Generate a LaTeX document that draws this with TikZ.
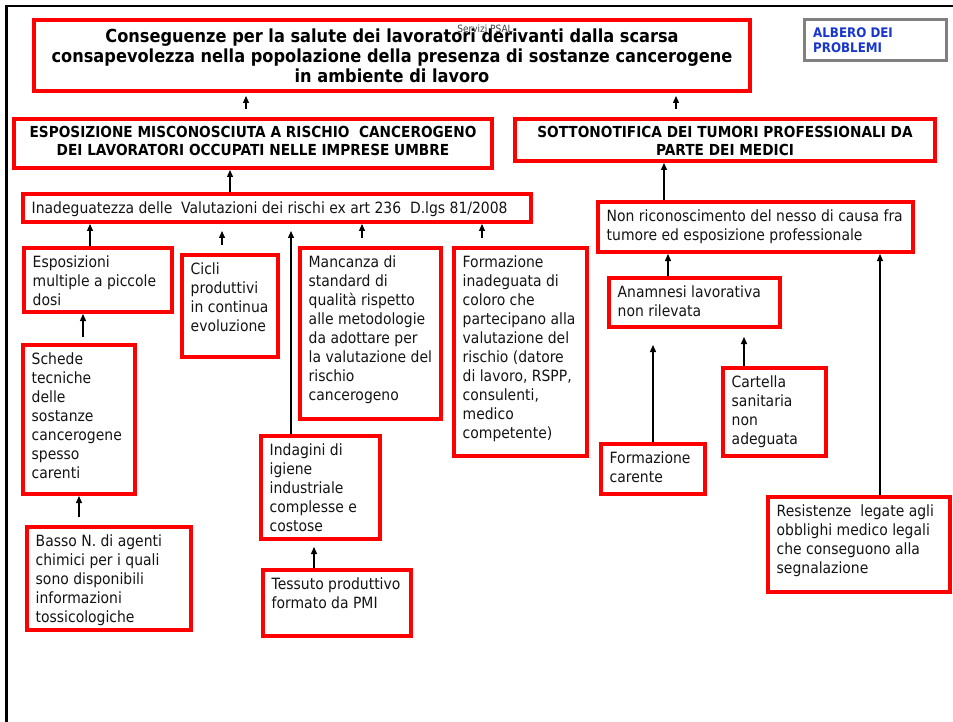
\documentclass[tikz,border=0pt]{standalone}
\usepackage{fontspec}
\setmainfont{DejaVu Sans}[FakeStretch=0.9]
\usetikzlibrary{arrows.meta,fit,calc}
\definecolor{boxred}{RGB}{255,0,0}
\definecolor{lblue}{RGB}{25,55,205}
\definecolor{txtcol}{RGB}{20,20,20}
\tikzset{
  rbox/.style={draw=boxred, line width=4pt, inner sep=0pt, rectangle},
  gbox/.style={draw=black!50, line width=3pt, inner sep=0pt, rectangle},
  txt/.style={align=left, inner sep=0pt, anchor=north west, text=txtcol,
    font=\fontsize{15.5}{19}\selectfont},
  ttl/.style={align=center, inner sep=0pt, text=black,
    font=\fontsize{18}{20}\selectfont\bfseries},
  sub/.style={align=center, inner sep=0pt, text=black,
    font=\fontsize{15.2}{18.5}\selectfont\bfseries},
  arr/.style={line width=1.3pt, draw=black, -{Triangle[length=7pt,width=6pt]}},
}
\newcommand\bx[6]{%
  \node[rbox, fit={(#2+2,#3+2)(#4-2,#5-2)}] (#1) {};
  \node[txt] (#1t) at (#2+10.5,#3+8) {\strut #6};
}
\begin{document}
\begin{tikzpicture}[x=1pt,y=-1pt]
\useasboundingbox[fill=white] (0,0) rectangle (953,722);
% page frame
\draw[line width=2.2pt] (6.5,722) -- (6.5,6) -- (953,6);

% title
\node[rbox, fit={(34,20)(750,91)}] (title) {};
\node[ttl] (titlet) at (392,55.5) {Conseguenze per la salute dei lavoratori derivanti dalla scarsa\\consapevolezza nella popolazione della presenza di sostanze cancerogene\\in ambiente di lavoro};
\node[font=\fontsize{10}{11}\selectfont, text=black!75, inner sep=0pt] (psal) at (485,29) {Servizi PSAL};

% albero dei problemi
\node[gbox, fit={(804.5,19.5)(946.5,60.5)}] (albero) {};
\node[align=left, inner sep=0pt, anchor=north west, text=lblue,
  font=\fontsize{13.2}{12.7}\selectfont\bfseries] (alberot) at (813,27.5) {\strut ALBERO DEI\\PROBLEMI};

% second level
\node[rbox, fit={(14,119)(492,168)}] (esp) {};
\node[sub] (espt) at (253,141) {ESPOSIZIONE MISCONOSCIUTA A RISCHIO\ \ CANCEROGENO\\DEI LAVORATORI OCCUPATI NELLE IMPRESE UMBRE};
\node[rbox, fit={(515,119)(935,161)}] (sott) {};
\node[sub] (sottt) at (725,141) {SOTTONOTIFICA DEI TUMORI PROFESSIONALI DA\\PARTE DEI MEDICI};

% boxes
\bx{inad}{21}{192}{533}{224}{Inadeguatezza delle\ \ Valutazioni dei rischi ex art 236\ \ D.lgs 81/2008}
\bx{espos}{22}{246}{174}{314}{Esposizioni\\multiple a piccole\\dosi}
\bx{cicli}{180}{253}{280}{359}{Cicli\\produttivi\\in continua\\evoluzione}
\bx{manc}{298}{246}{443}{421}{Mancanza di\\standard di\\qualità rispetto\\alle metodologie\\da adottare per\\la valutazione del\\rischio\\cancerogeno}
\bx{form}{452}{246}{589}{458}{Formazione\\inadeguata di\\coloro che\\partecipano alla\\valutazione del\\rischio (datore\\di lavoro, RSPP,\\consulenti,\\medico\\competente)}
\bx{schede}{21}{343}{137}{496}{Schede\\tecniche\\delle\\sostanze\\cancerogene\\spesso\\carenti}
\bx{basso}{25}{525}{193}{632}{Basso N. di agenti\\chimici per i quali\\sono disponibili\\informazioni\\tossicologiche}
\bx{indag}{259}{434}{382}{541}{Indagini di\\igiene\\industriale\\complesse e\\costose}
\bx{tess}{261}{568}{413}{638}{Tessuto produttivo\\formato da PMI}
\bx{nonric}{596}{200}{915}{254}{Non riconoscimento del nesso di causa fra\\tumore ed esposizione professionale}
\bx{anam}{607}{276}{782}{329}{Anamnesi lavorativa\\non rilevata}
\bx{cart}{721}{366}{828}{458}{Cartella\\sanitaria\\non\\adeguata}
\bx{fcar}{599}{442}{707}{496}{Formazione\\carente}
\bx{resist}{766}{495}{952}{594}{Resistenze\ \ legate agli\\obblighi medico legali\\che conseguono alla\\segnalazione}

% connectors
\coordinate (a1s) at (246,109); \coordinate (a1e) at (246,96);
\draw[arr] (a1s) -- (a1e);
\coordinate (a2s) at (676,109); \coordinate (a2e) at (676,96);
\draw[arr] (a2s) -- (a2e);
\coordinate (k3) at (230,0);
\draw[arr] (k3 |- inad.north) -- (k3 |- esp.south);
\coordinate (k4) at (664,0);
\draw[arr] (k4 |- nonric.north) -- (k4 |- sott.south);
\coordinate (k5) at (90,0);
\draw[arr] (k5 |- espos.north) -- (k5 |- inad.south);
\coordinate (a6s) at (222,245); \coordinate (a6e) at (222,231);
\draw[arr] (a6s) -- (a6e);
\coordinate (a7e) at (291,231);
\draw[arr] (a7e |- indag.north) -- (a7e);
\coordinate (a8s) at (362,238);
\draw[arr] (a8s) -- (a8s |- inad.south);
\coordinate (a9s) at (482,238);
\draw[arr] (a9s) -- (a9s |- inad.south);
\coordinate (a10s) at (83,337);
\draw[arr] (a10s) -- (a10s |- espos.south);
\coordinate (a11s) at (79,517);
\draw[arr] (a11s) -- (a11s |- schede.south);
\coordinate (a12e) at (314,547);
\draw[arr] (a12e |- tess.north) -- (a12e);
\coordinate (k13) at (668,0);
\draw[arr] (k13 |- anam.north) -- (k13 |- nonric.south);
\coordinate (a14e) at (653,345);
\draw[arr] (a14e |- fcar.north) -- (a14e);
\coordinate (a15e) at (744,337);
\draw[arr] (a15e |- cart.north) -- (a15e);
\coordinate (k16) at (880,0);
\draw[arr] (k16 |- resist.north) -- (k16 |- nonric.south);
\end{tikzpicture}
\end{document}
